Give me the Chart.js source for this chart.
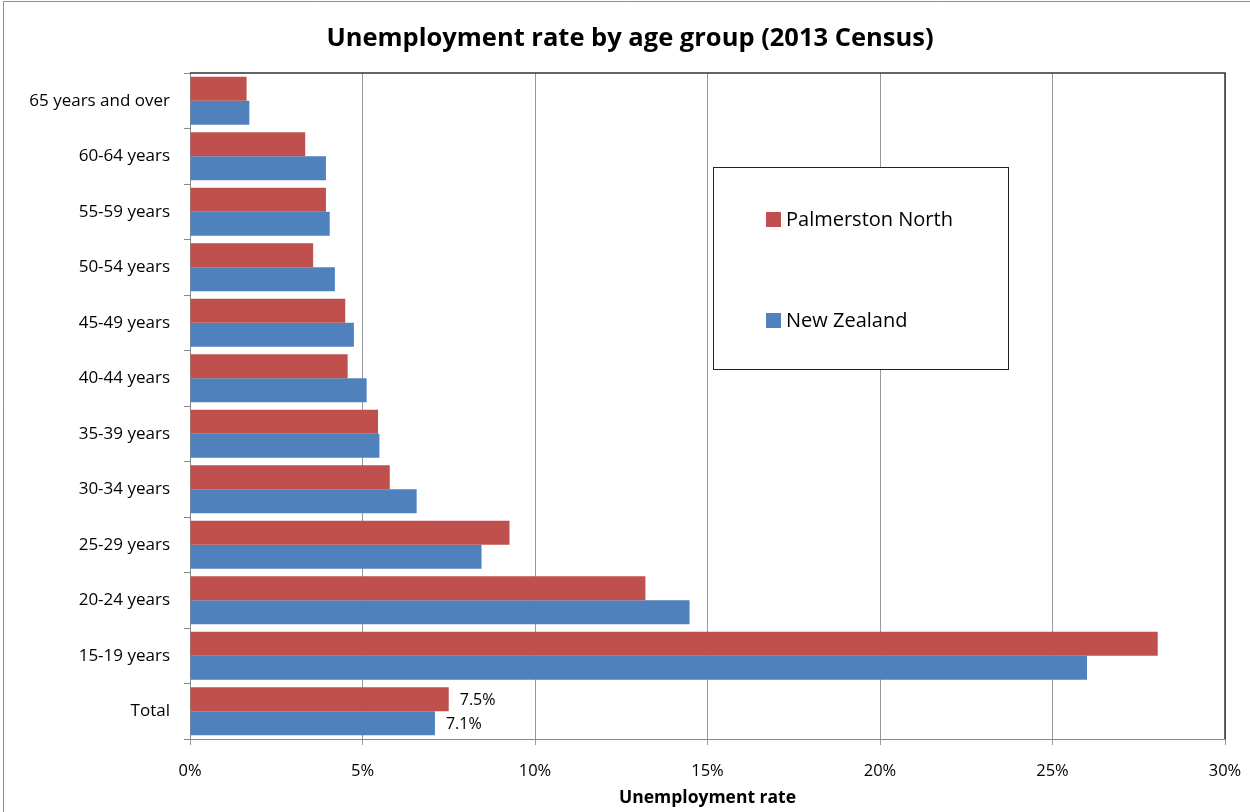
<!DOCTYPE html>
<html>
<head>
<meta charset="utf-8">
<script src="https://cdn.jsdelivr.net/npm/chart.js@4"></script>
<style>
  html, body { margin: 0; padding: 0; background: #fff; }
  #wrap { width: 1250px; height: 812px; }
</style>
</head>
<body>
<div id="wrap"><canvas id="chart" width="1250" height="812"></canvas></div>
<script>
const ageGroups = [
  "65 years and over", "60-64 years", "55-59 years", "50-54 years",
  "45-49 years", "40-44 years", "35-39 years", "30-34 years",
  "25-29 years", "20-24 years", "15-19 years", "Total"
];
const palmerstonNorth = [1.64, 3.34, 3.94, 3.57, 4.50, 4.57, 5.45, 5.79, 9.26, 13.2, 28.05, 7.5];
const newZealand = [1.72, 3.94, 4.05, 4.20, 4.75, 5.12, 5.49, 6.57, 8.45, 14.48, 26.0, 7.1];
const xTicks = [0, 5, 10, 15, 20, 25, 30];
const chartTitle = 'Unemployment rate by age group (2013 Census)';

const FONT = "'Open Sans', Lato, sans-serif";

// frame, title, plot border, legend box and the two labels on Total
const decorations = {
  id: 'decorations',
  beforeDraw(chart) {
    const c = chart.ctx;
    c.save();
    c.strokeStyle = '#8c8c8c';
    c.lineWidth = 1;
    c.beginPath();
    c.moveTo(3.5, 812);
    c.lineTo(3.5, 1.5);
    c.lineTo(1250, 1.5);
    c.stroke();

    // title sits centred on the whole frame, not on the canvas minus padding
    c.font = 'bold 25.5px ' + FONT;
    c.fillStyle = '#000';
    c.textAlign = 'center';
    c.textBaseline = 'middle';
    c.fillText(chartTitle, 630, 39);
    c.restore();
  },
  afterDraw(chart) {
    const c = chart.ctx;
    const a = chart.chartArea;
    c.save();
    c.strokeStyle = '#333';
    c.lineWidth = 1.5;
    c.beginPath();
    c.moveTo(a.left, a.top);
    c.lineTo(a.right, a.top);
    c.lineTo(a.right, a.bottom);
    c.stroke();

    // legend
    c.fillStyle = '#fff';
    c.fillRect(713, 167, 295, 202);
    c.strokeStyle = '#222';
    c.lineWidth = 1;
    c.strokeRect(713.5, 167.5, 295, 202);
    c.font = '20px ' + FONT;
    c.textBaseline = 'middle';
    const rows = [219, 320];
    chart.data.datasets.forEach((ds, i) => {
      c.fillStyle = ds.backgroundColor;
      c.fillRect(766, rows[i] - 7, 15, 15);
      c.fillStyle = '#000';
      c.fillText(ds.label, 786, rows[i] + 1);
    });

    // value labels for Total
    c.font = '16px ' + FONT;
    c.fillStyle = '#000';
    const last = ageGroups.length - 1;
    chart.data.datasets.forEach((ds, i) => {
      const bar = chart.getDatasetMeta(i).data[last];
      c.fillText(ds.data[last].toFixed(1) + '%', bar.x + 11, bar.y + 1);
    });
    c.restore();
  }
};

new Chart(document.getElementById('chart'), {
  type: 'bar',
  data: {
    labels: ageGroups,
    datasets: [
      { label: 'Palmerston North', data: palmerstonNorth, backgroundColor: '#C0504D' },
      { label: 'New Zealand', data: newZealand, backgroundColor: '#4F81BD' }
    ]
  },
  options: {
    indexAxis: 'y',
    responsive: false,
    animation: false,
    categoryPercentage: 0.865,
    barPercentage: 1,
    layout: { padding: { left: 0, right: 25, top: 73, bottom: 0 } },
    plugins: {
      legend: { display: false },
      tooltip: { enabled: false },
      title: { display: false }
    },
    scales: {
      x: {
        min: 0,
        max: 30,
        afterBuildTicks: s => { s.ticks = xTicks.map(v => ({ value: v })); },
        afterFit: s => { s.height = 73; s.paddingLeft = 0; s.paddingRight = 0; },
        ticks: {
          color: '#000',
          padding: 16,
          font: { family: FONT, size: 16.5 },
          callback: v => v + '%'
        },
        grid: { color: '#999', tickLength: 6, lineWidth: 1 },
        border: { color: '#888' },
        title: {
          display: true,
          text: 'Unemployment rate',
          color: '#000',
          font: { family: FONT, size: 17.5, weight: 'bold' },
          padding: { top: 0, bottom: 3 }
        }
      },
      y: {
        afterFit: s => { s.width = 190; s.paddingTop = 0; s.paddingBottom = 0; },
        ticks: {
          color: '#000',
          padding: 14,
          font: { family: FONT, size: 17 }
        },
        grid: { drawOnChartArea: false, color: '#888', tickLength: 6, offset: true },
        border: { color: '#888' }
      }
    }
  },
  plugins: [decorations]
});
</script>
</body>
</html>
